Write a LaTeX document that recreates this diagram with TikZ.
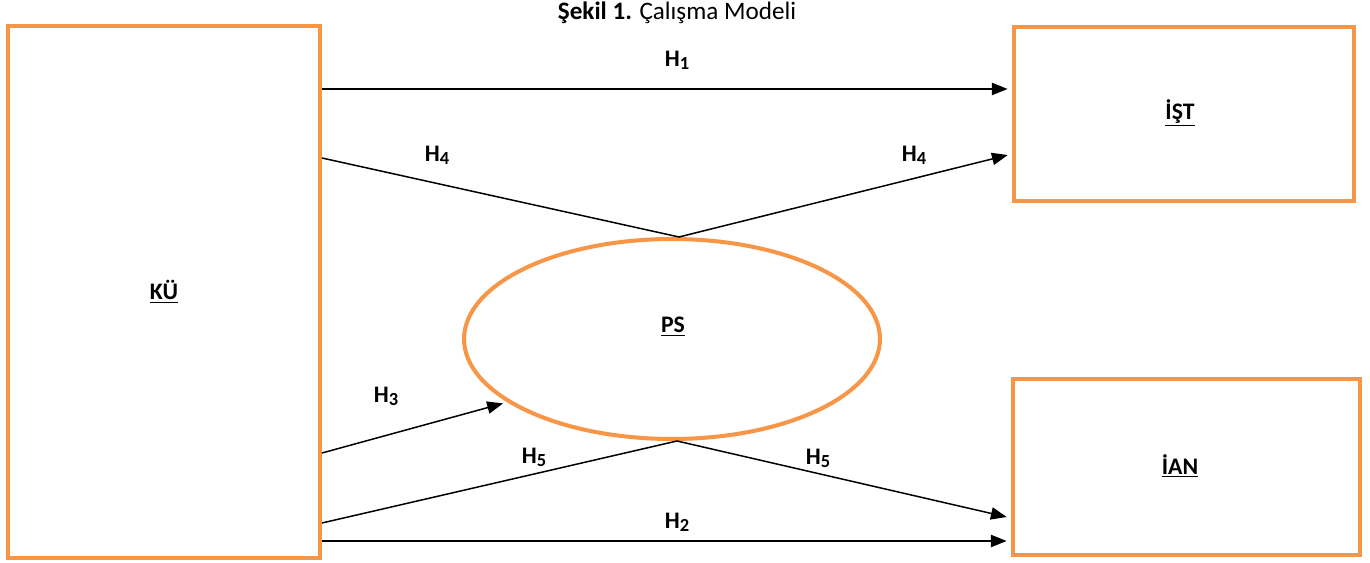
\documentclass[tikz,border=0pt]{standalone}
\usepackage{fontspec}
\setmainfont{Carlito}
\usetikzlibrary{arrows.meta,shapes.geometric,calc}
\definecolor{boxorange}{HTML}{F79646}
\newcommand\hsub[1]{\raisebox{-1.7pt}{\fontsize{10.5}{10.5}\selectfont #1}}
\tikzset{
  obox/.style={draw=boxorange, line width=2.3pt, rectangle, inner sep=0pt},
  oell/.style={draw=boxorange, line width=2.3pt, ellipse, inner sep=0pt},
  lbl/.style={font=\bfseries\fontsize{13.5}{15}\selectfont, inner sep=0pt},
  conn/.style={draw=black, line width=0.85pt},
  arr/.style={conn, -{Triangle[length=9pt,width=7pt]}, shorten >=2.5pt}
}
\begin{document}
\begin{tikzpicture}[x=0.02cm,y=-0.02cm]
\useasboundingbox (0,0) rectangle (1370,563);
\node[font=\fontsize{14.3}{16}\selectfont, inner sep=0pt] (title) at (677,13) {\textbf{Şekil 1.} Çalışma Modeli};
\node[obox, minimum width=6.24cm, minimum height=10.64cm] (ku) at (164,292) {};
\node[lbl] (kulbl) at (164,292) {\underline{KÜ}};
\node[obox, minimum width=6.8cm, minimum height=3.48cm] (ist) at (1184,114) {};
\node[lbl] (istlbl) at (1180,113) {\underline{İŞT}};
\node[obox, minimum width=6.94cm, minimum height=3.52cm] (ian) at (1186.5,467) {};
\node[lbl] (ianlbl) at (1180,466) {\underline{İAN}};
\node[oell, minimum width=8.32cm, minimum height=4cm] (ps) at (672,339) {};
\node[lbl] (pslbl) at (673,327) {\underline{PS}};
% connectors
\coordinate (v4) at ($(ps.north)+(7,0)$);
\coordinate (v5) at ($(ps.south)+(5,0)$);
\draw[arr] (ku.east |- 0,89) -- (ist.west |- 0,89);
\draw[arr] (ku.east |- 0,158) -- (v4) -- (ist.west |- 0,154);
\draw[arr] (ku.east |- 0,453) -- (ps.201);
\draw[arr] (ku.east |- 0,523) -- (v5) -- (ian.west |- 0,518);
\draw[arr] (ku.east |- 0,541) -- (ian.west |- 0,541);
% labels
\node[lbl] (h1) at (677,60) {H\hsub{1}};
\node[lbl] (h4a) at (437,155) {H\hsub{4}};
\node[lbl] (h4b) at (914,155) {H\hsub{4}};
\node[lbl] (h3) at (386,396) {H\hsub{3}};
\node[lbl] (h5a) at (534,457) {H\hsub{5}};
\node[lbl] (h5b) at (818,458) {H\hsub{5}};
\node[lbl] (h2) at (677,522) {H\hsub{2}};
\end{tikzpicture}
\end{document}
